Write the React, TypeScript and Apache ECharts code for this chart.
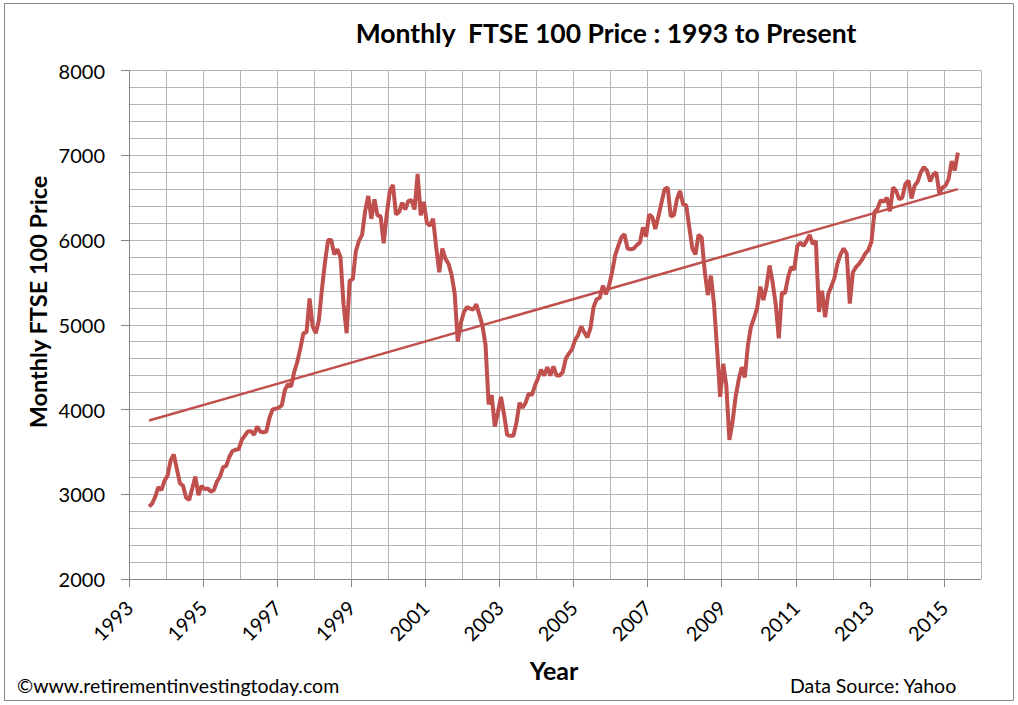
import React, { useEffect, useRef } from "react";
import * as echarts from "echarts";

// first month in the series (July 1993), one value per month after that
const startYear = 1993;
const startMonth = 7;

const monthlyPrice: number[] = [
  // 1993 (Jul-Dec)
  2854, 2890, 2970, 3083, 3050, 3160,
  // 1994
  3220, 3400, 3470, 3300, 3130, 3100, 2960, 2933, 3070, 3210, 2990, 3100,
  // 1995
  3060, 3070, 3030, 3050, 3150, 3210, 3320, 3335, 3440, 3510, 3525, 3530,
  // 1996
  3640, 3690, 3740, 3745, 3700, 3800, 3740, 3730, 3740, 3900, 4000, 4010,
  // 1997
  4020, 4050, 4230, 4300, 4270, 4440, 4560, 4720, 4900, 4910, 5310, 4980,
  // 1998
  4900, 5050, 5420, 5740, 6000, 6000, 5830, 5890, 5800, 5240, 4900, 5520,
  // 1999
  5540, 5870, 5990, 6060, 6340, 6520, 6250, 6480, 6290, 6280, 5960, 6300,
  // 2000
  6580, 6650, 6300, 6330, 6440, 6360, 6460, 6470, 6360, 6780, 6290, 6450,
  // 2001
  6200, 6170, 6250, 5920, 5620, 5900, 5780, 5720, 5590, 5370, 4800, 5020,
  // 2002
  5150, 5210, 5190, 5180, 5240, 5120, 4990, 4760, 4060, 4170, 3800, 3960,
  // 2003
  4150, 3940, 3700, 3690, 3690, 3840, 4080, 4020, 4080, 4190, 4170, 4280,
  // 2004
  4370, 4470, 4400, 4500, 4400, 4510, 4400, 4400, 4440, 4600, 4660, 4710,
  // 2005
  4820, 4880, 4980, 4910, 4850, 4960, 5210, 5300, 5320, 5460, 5360, 5460,
  // 2006
  5620, 5820, 5930, 6030, 6070, 5900, 5890, 5900, 5940, 5970, 6150, 6040,
  // 2007
  6300, 6270, 6130, 6280, 6440, 6600, 6620, 6280, 6290, 6480, 6580, 6420,
  // 2008
  6410, 6150, 5900, 5830, 6060, 6030, 5630, 5350, 5580, 5250, 4720, 4150,
  // 2009
  4540, 4280, 3640, 3850, 4150, 4350, 4500, 4380, 4760, 4980, 5080, 5200,
  // 2010
  5450, 5290, 5450, 5700, 5500, 5240, 4840, 5380, 5370, 5560, 5680, 5650,
  // 2011
  5930, 5970, 5930, 5990, 6060, 5950, 5990, 5150, 5400, 5090, 5360, 5450,
  // 2012
  5550, 5720, 5830, 5900, 5840, 5250, 5620, 5680, 5720, 5770, 5840, 5880,
  // 2013
  5980, 6330, 6370, 6470, 6450, 6500, 6340, 6620, 6580, 6480, 6500, 6660,
  // 2014
  6700, 6490, 6640, 6690, 6800, 6860, 6820, 6690, 6770, 6800, 6550, 6620,
  // 2015 (Jan-May)
  6640, 6720, 6930, 6820, 7030,
];

// linear trendline, value at the first and at the last month
const trendEnds = [3870, 6600];

const yearTicks = [1993, 1995, 1997, 1999, 2001, 2003, 2005, 2007, 2009, 2011, 2013, 2015];
const priceTicks = [2000, 3000, 4000, 5000, 6000, 7000, 8000];

const LINE = "#C0504D";
const GRID = "#B5B5B5";
const AXIS = "#868686";
const FONT = "Lato, 'Open Sans', sans-serif";

export default function App() {
  const chartRef = useRef<HTMLDivElement>(null);

  useEffect(() => {
    if (!chartRef.current) return;
    const chart = echarts.init(chartRef.current, null, { renderer: "svg" });

    const monthX = (i: number) => startYear + (startMonth - 1 + i + 0.5) / 12;
    const priceData = monthlyPrice.map((v, i) => [monthX(i), v]);
    const trendData = [
      [monthX(0), trendEnds[0]],
      [monthX(monthlyPrice.length - 1), trendEnds[1]],
    ];

    const textStyle = (size: number, bold = false) => ({
      fill: "#000",
      fontSize: size,
      fontWeight: bold ? "bold" : "normal",
      fontFamily: FONT,
    });

    const option: echarts.EChartsOption = {
      animation: false,
      backgroundColor: "#ffffff",
      grid: { left: 129, right: 37, top: 70.5, bottom: 126, containLabel: false },
      xAxis: [
        {
          // gridlines every year
          type: "value",
          min: 1993,
          max: 2016,
          interval: 1,
          position: "bottom",
          axisLine: { show: false },
          axisTick: { show: false },
          axisLabel: { show: false },
          splitLine: { show: true, lineStyle: { color: GRID, width: 1 } },
        },
        {
          type: "value",
          min: 1993,
          max: 2016,
          interval: 1,
          position: "bottom",
          axisLine: { show: true, lineStyle: { color: AXIS, width: 1 } },
          axisTick: {
            show: true,
            customValues: yearTicks,
            length: 8,
            lineStyle: { color: AXIS },
          },
          axisLabel: {
            customValues: yearTicks,
            rotate: 45,
            margin: 25,
            color: "#000",
            fontSize: 20,
            fontFamily: FONT,
            formatter: (v: number) => String(v),
          },
          splitLine: { show: false },
        },
      ],
      yAxis: [
        {
          // gridlines every 200
          type: "value",
          min: 2000,
          max: 8000,
          interval: 200,
          position: "left",
          axisLine: { show: false },
          axisTick: { show: false },
          axisLabel: { show: false },
          splitLine: { show: true, lineStyle: { color: GRID, width: 1 } },
        },
        {
          type: "value",
          min: 2000,
          max: 8000,
          interval: 200,
          position: "left",
          axisLine: { show: true, lineStyle: { color: AXIS, width: 1 } },
          axisTick: {
            show: true,
            customValues: priceTicks,
            length: 8,
            lineStyle: { color: AXIS },
          },
          axisLabel: {
            customValues: priceTicks,
            margin: 24,
            color: "#000",
            fontSize: 20,
            fontFamily: FONT,
            formatter: (v: number) => String(v),
          },
          splitLine: { show: false },
        },
      ],
      series: [
        {
          name: "Monthly FTSE 100 Price",
          type: "line",
          xAxisIndex: 1,
          yAxisIndex: 1,
          data: priceData,
          showSymbol: false,
          lineStyle: { color: LINE, width: 4 },
          z: 3,
        },
        {
          name: "Trend",
          type: "line",
          xAxisIndex: 1,
          yAxisIndex: 1,
          data: trendData,
          showSymbol: false,
          lineStyle: { color: LINE, width: 2.5 },
          z: 2,
        },
      ],
      graphic: [
        {
          type: "rect",
          shape: { x: 4.5, y: 3.5, width: 1009, height: 697 },
          style: { fill: "none", stroke: AXIS, lineWidth: 1 },
          silent: true,
        },
        {
          type: "text",
          x: 606,
          y: 33,
          style: {
            ...textStyle(26.5, true),
            text: "Monthly  FTSE 100 Price : 1993 to Present",
            align: "center",
            verticalAlign: "middle",
          },
        },
        {
          type: "text",
          x: 38,
          y: 302,
          rotation: Math.PI / 2,
          style: {
            ...textStyle(23.5, true),
            text: "Monthly FTSE 100 Price",
            align: "center",
            verticalAlign: "middle",
          },
        },
        {
          type: "text",
          x: 554,
          y: 670,
          style: {
            ...textStyle(25, true),
            text: "Year",
            align: "center",
            verticalAlign: "middle",
          },
        },
        {
          type: "text",
          x: 17,
          y: 685,
          style: {
            ...textStyle(19.5),
            text: "©www.retirementinvestingtoday.com",
            align: "left",
            verticalAlign: "middle",
          },
        },
        {
          type: "text",
          x: 790,
          y: 685,
          style: {
            ...textStyle(19.5),
            text: "Data Source: Yahoo",
            align: "left",
            verticalAlign: "middle",
          },
        },
      ],
    };

    chart.setOption(option);

    return () => {
      chart.dispose();
    };
  }, []);

  return (
    <div
      ref={chartRef}
      style={{ position: "fixed", left: 0, top: 0, width: 1018, height: 705 }}
    />
  );
}
